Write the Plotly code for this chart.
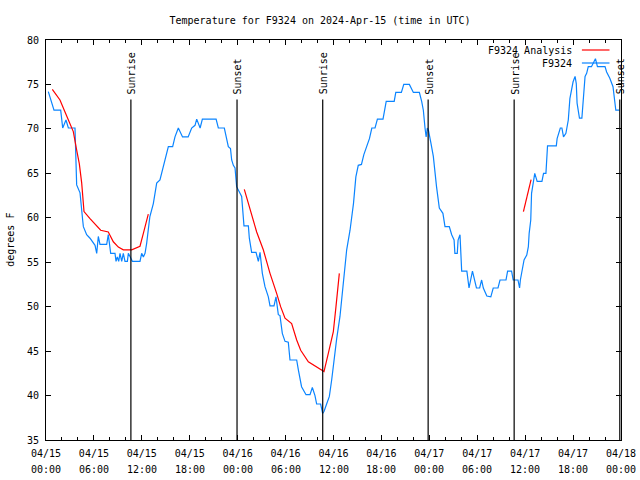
import plotly.graph_objects as go

# ---------------- data ----------------
obs_hours = [0.29, 0.71, 1.0, 1.84, 2.09, 2.5, 2.8, 3.63, 3.72, 3.84, 4.26, 4.47, 4.59, 4.68,
             5.09, 5.51, 6.14, 6.35, 6.55, 6.76, 7.6, 7.8, 8.1, 8.64, 8.77, 8.93, 9.1, 9.27,
             9.48, 9.68, 9.89, 10.19, 10.31, 10.6, 10.81, 11.77, 11.98, 12.19, 12.4, 12.6,
             13.0, 13.44, 13.86, 14.27, 14.69, 15.11, 15.32, 15.86, 16.15, 16.57, 17.1, 17.8,
             18.24, 18.66, 18.87, 19.3, 19.58, 21.3, 21.58, 22.33, 22.54, 22.83, 23.1, 23.25,
             23.46, 23.67, 23.87, 24.21, 24.5, 24.79, 25.34, 25.46, 25.75, 26.3, 26.59, 26.8,
             27.09, 27.42, 27.84, 28.05, 28.55, 28.8, 29.09, 29.3, 29.59, 29.93, 30.34, 30.55,
             31.39, 31.6, 32.0, 32.56, 33.06, 33.35, 33.68, 33.89, 34.39, 34.64, 34.81, 35.14,
             35.48, 35.77, 36.06, 36.4, 36.81, 37.1, 37.3, 37.65, 38.07, 38.5, 38.8, 39.1,
             39.5, 39.8, 40.15, 40.5, 40.8, 41.2, 41.5, 42.2, 42.6, 43.6, 43.8, 44.5, 44.8,
             45.5, 46.0, 46.75, 47.04, 47.25, 47.46, 47.6, 47.75, 47.9, 48.2, 48.5, 48.9,
             49.25, 49.7, 49.96, 50.5, 50.8, 51.1, 51.2, 51.5, 51.6, 51.84, 52.05, 52.7,
             52.97, 53.4, 53.9, 54.3, 54.55, 54.76, 55.2, 55.7, 56.0, 56.6, 56.85, 57.6,
             57.8, 58.3, 58.5, 59.1, 59.3, 59.4, 59.7, 59.86, 60.2, 60.4, 60.5, 60.7, 60.8,
             61.0, 61.2, 61.5, 62.1, 62.3, 62.6, 62.8, 63.9, 64.0, 64.4, 64.6, 64.8, 65.1,
             65.4, 65.6, 65.8, 66.0, 66.25, 66.4, 66.5, 66.8, 67.1, 67.3, 67.5, 67.7, 67.9,
             68.3, 68.7, 68.8, 69.05, 70.0, 70.2, 70.6, 71.0, 71.2, 71.35, 71.8]
obs_temps = [74.2, 73.1, 72.1, 72.1, 70.1, 71.0, 70.1, 70.1, 65.7, 63.7, 62.8, 61.25, 59.75, 59.0,
             58.1, 57.7, 56.9, 56.0, 57.9, 57.0, 57.0, 58.1, 56.0, 56.0, 55.1, 55.6, 55.1, 56.0,
             55.1, 56.0, 55.1, 55.1, 56.0, 55.5, 55.1, 55.1, 56.0, 55.6, 56.0, 57.1,
             60.1, 61.6, 63.9, 64.25, 65.75, 67.25, 68.0, 68.0, 69.1, 70.1, 69.1, 69.1,
             70.1, 70.4, 71.1, 70.1, 71.1, 71.1, 70.1, 70.1, 69.1, 68.0, 67.8, 66.5,
             65.9, 65.6, 63.5, 62.9, 62.4, 59.1, 59.1, 57.7, 56.1, 56.1, 55.1, 56.1,
             53.75, 52.25, 51.1, 50.1, 50.1, 51.1, 49.1, 49.0, 47.0, 46.1, 46.0, 44.0,
             44.0, 42.9, 41.0, 40.1, 40.1, 40.9, 40.0, 39.05, 39.05, 38.0, 38.2, 39.05,
             39.9, 41.75, 44.0, 46.4, 48.9, 51.5, 53.75, 56.4, 58.6, 61.6, 64.6, 65.9,
             66.0, 67.1, 68.0, 68.9, 70.1, 70.1, 71.1, 71.1, 73.1, 73.1, 74.1, 74.1, 75.0,
             75.0, 74.1, 74.1, 73.1, 72.1, 70.1, 69.1, 70.1, 69.8, 68.4, 66.9, 63.5,
             61.1, 60.5, 59.0, 59.0, 58.1, 57.5, 56.0, 56.0, 57.5, 58.1, 54.0, 54.0,
             52.1, 54.0, 52.1, 52.1, 53.0, 52.1, 51.2, 51.1, 52.1, 52.1, 53.0, 53.0,
             54.0, 54.0, 53.0, 53.0, 52.1, 53.0, 54.5, 55.25, 55.8, 56.75, 58.25, 59.75, 62.75,
             63.9, 65.0, 64.1, 64.1, 65.0, 65.0, 68.1, 68.1, 68.9, 70.1, 70.1, 69.1, 69.5,
             71.0, 73.4, 74.2, 75.3, 75.9, 75.1, 72.9, 71.2, 71.2, 73.25, 75.9, 76.25, 77.0,
             77.0, 77.6, 77.9, 77.0, 77.0, 76.4, 75.7, 74.75, 73.4, 72.1, 72.1]

ana_hours = [0.79, 1.2, 1.75, 2.38, 3.0, 3.42, 3.84, 4.17, 4.47, 4.76, 5.51, 6.26, 6.85, 7.8,
             8.43, 9.06, 9.68, 10.73, 11.27, 11.77, 12.19, 12.52, 12.81, None,
             24.83, 25.54, 26.38, 27.21, 28.05, 28.88, 29.38, 29.93, 30.76, 31.39, 31.89,
             32.85, 33.89, 34.81, 35.35, 35.98, 36.31, 36.73, None,
             59.78, 60.2, 60.53, 60.74]
ana_temps = [74.45, 73.9, 73.25, 71.9, 70.6, 69.7, 67.6, 66.1, 63.9, 60.7, 59.9, 59.2, 58.6, 58.4,
             57.3, 56.7, 56.4, 56.4, 56.6, 56.8, 58.25, 59.6, 60.4, None,
             63.2, 60.9, 58.4, 56.4, 53.75, 51.5, 50.0, 48.7, 48.1, 46.25, 45.1,
             43.8, 43.25, 42.7, 44.75, 47.2, 50.0, 53.75, None,
             60.7, 62.2, 63.5, 64.3]

event_hours = [10.63, 23.92, 34.65, 47.85, 58.62, 71.85]
event_names = ["Sunrise", "Sunset", "Sunrise", "Sunset", "Sunrise", "Sunset"]
event_top = 73.3

tick_hours = [0, 6, 12, 18, 24, 30, 36, 42, 48, 54, 60, 66, 72]
tick_dates = ["04/15", "04/15", "04/15", "04/15", "04/16", "04/16", "04/16", "04/16",
              "04/17", "04/17", "04/17", "04/17", "04/18"]
tick_times = ["00:00", "06:00", "12:00", "18:00", "00:00", "06:00", "12:00", "18:00",
              "00:00", "06:00", "12:00", "18:00", "00:00"]

series_names = ["F9324 Analysis", "F9324"]
RED = "#ff0000"
BLUE = "#0a84ff"
FONT = "DejaVu Sans Mono"
TF = dict(family=FONT, size=10, color="black")

fig = go.Figure()
fig.add_trace(go.Scatter(x=obs_hours, y=obs_temps, mode="lines", name=series_names[1],
                         line=dict(color=BLUE, width=1.2), connectgaps=False,
                         hoverinfo="skip"))
fig.add_trace(go.Scatter(x=ana_hours, y=ana_temps, mode="lines", name=series_names[0],
                         line=dict(color=RED, width=1.2), connectgaps=False,
                         hoverinfo="skip"))

shapes = []
annotations = []
for h, name in zip(event_hours, event_names):
    shapes.append(dict(type="line", xref="x", yref="y", x0=h, x1=h, y0=35, y1=event_top,
                       line=dict(color="black", width=1.2)))
    annotations.append(dict(x=h, y=event_top, xref="x", yref="y", text=name, textangle=-90,
                            showarrow=False, xanchor="center", yanchor="bottom", yshift=3,
                            xshift=1, font=TF))

# second row of the time-axis labels
for h, t in zip(tick_hours, tick_times):
    annotations.append(dict(x=h, y=0, xref="x", yref="paper", text=t, showarrow=False,
                            xanchor="center", yanchor="middle", yshift=-29, font=TF))

# legend (gnuplot style: text then sample)
leg_rows = [0.975, 0.9425]
leg_colors = [RED, BLUE]
for yy, nm, col in zip(leg_rows, series_names, leg_colors):
    annotations.append(dict(x=0.919, y=yy, xref="paper", yref="paper", text=nm,
                            showarrow=False, xanchor="right", yanchor="middle", font=TF))
    shapes.append(dict(type="line", xref="paper", yref="paper", x0=0.932, x1=0.98,
                       y0=yy, y1=yy, line=dict(color=col, width=1.2)))

annotations.append(dict(x=-0.063, y=0.5, xref="paper", yref="paper", text="degrees F",
                        textangle=-90, showarrow=False, xanchor="center", yanchor="middle",
                        font=TF))

fig.update_layout(
    width=640, height=480,
    margin=dict(l=46, r=19, t=40, b=40, autoexpand=False),
    paper_bgcolor="white", plot_bgcolor="white",
    showlegend=False, hovermode=False,
    font=TF,
    title=dict(text="Temperature for F9324 on 2024-Apr-15 (time in UTC)", x=0.5,
               xanchor="center", y=1 - 20 / 480, yanchor="middle", yref="container",
               font=TF),
    shapes=shapes, annotations=annotations,
)
fig.update_xaxes(range=[0, 72], tickmode="array", tickvals=tick_hours,
                 ticktext=tick_dates, automargin=False,
                 showgrid=False, zeroline=False, showline=True, linecolor="black",
                 linewidth=1, mirror="allticks", ticks="inside", ticklen=5,
                 tickcolor="black", ticklabelstandoff=4,
                 minor=dict(dtick=2, tick0=0, ticks="inside", ticklen=3,
                            tickcolor="black", showgrid=False),
                 tickfont=TF)
fig.update_yaxes(range=[35, 80], dtick=5, tick0=35, showgrid=False, zeroline=False,
                 showline=True, linecolor="black", linewidth=1, mirror="allticks",
                 ticks="inside", ticklen=5, tickcolor="black", ticklabelstandoff=4,
                 automargin=False, tickfont=TF)

fig.write_html("out.html", config={"displayModeBar": False, "staticPlot": True},
               post_script="document.body.style.margin='0';")
